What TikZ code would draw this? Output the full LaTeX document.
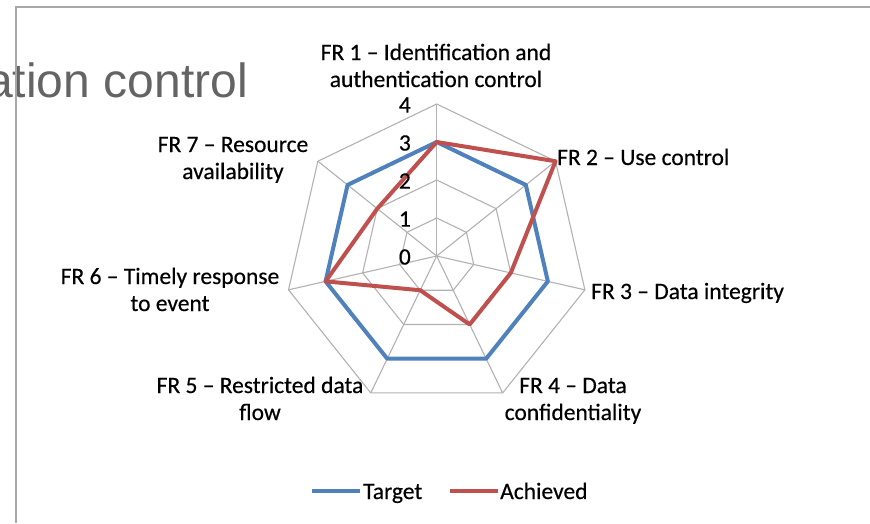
\documentclass[tikz,border=0pt]{standalone}
\usepackage{fontspec}
\setmainfont{Carlito}[FakeBold=0.4]
\newfontfamily\slidefont{Liberation Sans}
\definecolor{targetblue}{RGB}{79,129,189}
\definecolor{achievedred}{RGB}{192,80,77}
\definecolor{gridgray}{RGB}{178,178,178}
\definecolor{framegray}{RGB}{168,168,168}
\definecolor{titlegray}{RGB}{100,100,100}
\tikzset{
  chartfont/.style={font=\fontsize{23.5}{27}\selectfont},
  gridline/.style={draw=gridgray, line width=1.1pt},
  series/.style={line width=4pt, line join=round, line cap=round},
  axislabel/.style={chartfont, inner sep=0pt, align=center},
  ticklabel/.style={chartfont, inner sep=0pt, anchor=east},
}
\begin{document}
\begin{tikzpicture}[x=1pt,y=1pt]
\useasboundingbox (0,0) rectangle (870,-523);
\fill[white] (0,0) rectangle (870,-523);

% slide title fragment behind the chart frame
\node[anchor=base east, inner sep=0pt, text=titlegray,
      font=\slidefont\fontsize{48}{48}\selectfont] (title) at (248,-97) {ation control};

% chart frame
\draw[framegray, line width=1.6pt] (16,-523) -- (16,-7) -- (870,-7);

\begin{scope}[shift={(436.7,-256)}]
  \coordinate (C) at (0,0);
  % spokes and axis end points
  \foreach \k in {0,...,6} {
    \coordinate (v\k) at ({90-\k*360/7}:152);
    \draw[gridline] (C) -- (v\k);
  }
  % rings for values 1 to 4
  \foreach \r in {38,76,114,152} {
    \draw[gridline] (90:\r) \foreach \k in {1,...,6} { -- ({90-\k*360/7}:\r) } -- cycle;
  }
  % target: 3 on every axis
  \foreach \k in {0,...,6} { \coordinate (t\k) at ({90-\k*360/7}:114); }
  \draw[series, targetblue] (t0) -- (t1) -- (t2) -- (t3) -- (t4) -- (t5) -- (t6) -- cycle;
  % achieved: 3, 4, 2, 2, 1, 3, 2
  \coordinate (a0) at (90:114);
  \coordinate (a1) at ({90-1*360/7}:152);
  \coordinate (a2) at ({90-2*360/7}:76);
  \coordinate (a3) at ({90-3*360/7}:76);
  \coordinate (a4) at ({90-4*360/7}:38);
  \coordinate (a5) at ({90-5*360/7}:114);
  \coordinate (a6) at ({90-6*360/7}:76);
  \draw[series, achievedred] (a0) -- (a1) -- (a2) -- (a3) -- (a4) -- (a5) -- (a6) -- cycle;
\end{scope}

% value scale along the first axis
\node[ticklabel] (s4) at (411,-105) {4};
\node[ticklabel] (s3) at (411,-143) {3};
\node[ticklabel] (s2) at (411,-181) {2};
\node[ticklabel] (s1) at (411,-219) {1};
\node[ticklabel] (s0) at (411,-257) {0};

% axis titles (base anchor sits on the last line)
\node[axislabel, anchor=base] (fr1) at (436,-87) {FR 1 -- Identification and\\authentication control};
\node[axislabel, anchor=base west] (fr2) at (557,-165) {FR 2 -- Use control};
\node[axislabel, anchor=base west] (fr3) at (591,-299) {FR 3 -- Data integrity};
\node[axislabel, anchor=base] (fr4) at (573,-420) {FR 4 -- Data\\confidentiality};
\node[axislabel, anchor=base] (fr5) at (260,-420) {FR 5 -- Restricted data\\flow};
\node[axislabel, anchor=base] (fr6) at (170,-311) {FR 6 -- Timely response\\to event};
\node[axislabel, anchor=base] (fr7) at (233,-179) {FR 7 -- Resource\\availability};

% legend
\coordinate (lt1) at (312,-491);
\coordinate (lt2) at (360,-491);
\draw[series, targetblue, line cap=butt] (lt1) -- (lt2);
\node[chartfont, inner sep=0pt, anchor=base west] (ltarget) at (363,-499) {Target};
\coordinate (la1) at (450,-491);
\coordinate (la2) at (498,-491);
\draw[series, achievedred, line cap=butt] (la1) -- (la2);
\node[chartfont, inner sep=0pt, anchor=base west] (lachieved) at (500,-499) {Achieved};
\end{tikzpicture}
\end{document}
